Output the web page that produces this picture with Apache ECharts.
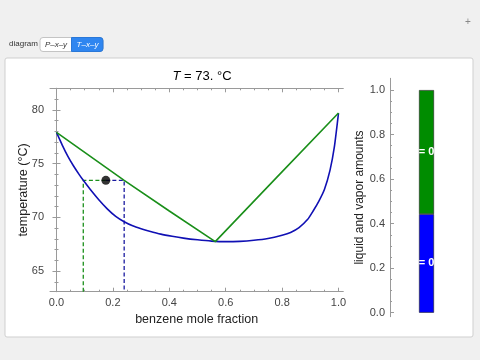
<!DOCTYPE html>
<html><head><meta charset="utf-8">
<script src="https://cdn.jsdelivr.net/npm/echarts@6/dist/echarts.min.js"></script>
<style>html,body{margin:0;padding:0;background:#f0f0f0;}#c{width:480px;height:360px;}</style>
</head><body><div id="c"></div>
<script>
// bubble (liquid) curve, blue
const bubbleX = [0, 0.02, 0.04, 0.06, 0.08, 0.095, 0.12, 0.15, 0.18, 0.21, 0.24, 0.27, 0.3, 0.33, 0.37, 0.41, 0.45, 0.5, 0.55, 0.6, 0.65, 0.7, 0.75, 0.8, 0.83, 0.86, 0.89, 0.91, 0.93, 0.95, 0.97, 0.985, 1.0];
const bubbleT = [77.9, 76.75, 75.7, 74.8, 74.0, 73.45, 72.6, 71.65, 70.8, 70.1, 69.6, 69.22, 68.95, 68.72, 68.45, 68.25, 68.08, 67.92, 67.8, 67.75, 67.78, 67.88, 68.05, 68.35, 68.6, 69.05, 69.8, 70.6, 71.5, 72.6, 74.4, 76.5, 79.7];
// dew (vapor) curve, green
const dewX = [0, 0.1, 0.24, 0.4, 0.563, 0.78, 1.0];
const dewT = [77.9, 76.05, 73.45, 70.6, 67.75, 73.7, 79.7];
// tie line state
const tieT = 73.45;
const liquidX = 0.095;
const vaporX = 0.24;
const overallX = 0.175;
// amounts bar
const barCategories = ['amounts'];
const liquidAmount = [0.443];
const vaporAmount = [0.557];
// ticks
const xMajor = [0, 0.2, 0.4, 0.6, 0.8, 1.0];
const xMinor = [0.05, 0.1, 0.15, 0.25, 0.3, 0.35, 0.45, 0.5, 0.55, 0.65, 0.7, 0.75, 0.85, 0.9, 0.95];
const yMajor = [65, 70, 75, 80];
const yMinor = [64, 66, 67, 68, 69, 71, 72, 73, 74, 76, 77, 78, 79, 81];
const bMajor = [0, 0.2, 0.4, 0.6, 0.8, 1.0];
const bMinor = [0.05, 0.1, 0.15, 0.25, 0.3, 0.35, 0.45, 0.5, 0.55, 0.65, 0.7, 0.75, 0.85, 0.9, 0.95];

const X_MIN = -0.023, X_MAX = 1.017, Y_MIN = 63.1, Y_MAX = 82.0;
const FONT = 'Liberation Sans, Arial, sans-serif';
const FR = '#9a9a9a';

function zip(a, b) { return a.map((v, i) => [v, b[i]]); }

function ax(o) {
  const base = {
    type: 'value', splitLine: { show: false }, nameMoveOverlap: false,
    axisLine: { show: o.line !== false, lineStyle: { color: FR, width: 1 } },
    axisTick: { show: true, inside: true, length: o.len, customValues: o.ticks, lineStyle: { color: FR } },
    axisLabel: o.labels ? { show: true, customValues: o.labels, formatter: o.fmt, color: '#444', fontSize: 11, fontFamily: FONT, margin: o.margin || 6 } : { show: false }
  };
  return Object.assign(base, o.extra);
}

const chart = echarts.init(document.getElementById('c'), null, { renderer: 'canvas' });
chart.setOption({
  animation: false,
  backgroundColor: '#f0f0f0',
  graphic: [
    { type: 'rect', shape: { x: 5, y: 58, width: 468, height: 279, r: 2 }, style: { fill: '#ffffff', stroke: '#cfcfcf', lineWidth: 1 }, z: -10 },
    { type: 'text', left: 9, top: 40, style: { text: 'diagram', font: '8px ' + FONT, fill: '#333' } },
    { type: 'rect', shape: { x: 40, y: 37.5, width: 63, height: 14, r: 3 }, style: { fill: '#ffffff', stroke: '#c4c4c4', lineWidth: 1 } },
    { type: 'rect', shape: { x: 71.5, y: 37.5, width: 31.5, height: 14, r: [0, 3, 3, 0] }, style: { fill: '#2f86f0', stroke: '#2a78d8', lineWidth: 1 } },
    { type: 'text', x: 56, y: 44.5, style: { text: 'P–x–y', font: 'italic 8px ' + FONT, fill: '#333', align: 'center', verticalAlign: 'middle' } },
    { type: 'text', x: 87.5, y: 44.5, style: { text: 'T–x–y', font: 'italic 8px ' + FONT, fill: '#fff', align: 'center', verticalAlign: 'middle' } },
    { type: 'text', x: 468, y: 22, style: { text: '+', font: '10px ' + FONT, fill: '#888', align: 'center', verticalAlign: 'middle' } }
  ],
  title: {
    text: '{i|T} = 73. °C', left: 197, top: 65, textAlign: 'center',
    textStyle: { fontSize: 13, fontWeight: 'normal', color: '#000', fontFamily: FONT, rich: { i: { fontStyle: 'italic', fontSize: 13, fontFamily: FONT, color: '#000' } } }
  },
  grid: [
    { left: 50, top: 88.3, right: 136.7, bottom: 68.3 },
    { left: 390, top: 78.3, width: 73, bottom: 43.3 }
  ],
  xAxis: [
    ax({ ticks: xMajor, len: 4, labels: xMajor, fmt: v => v.toFixed(1), extra: { gridIndex: 0, min: X_MIN, max: X_MAX, position: 'bottom', name: 'benzene mole fraction', nameLocation: 'middle', nameGap: 21, nameTextStyle: { fontSize: 12.5, color: '#222', fontFamily: FONT } } }),
    ax({ ticks: xMinor, len: 2, line: false, extra: { gridIndex: 0, min: X_MIN, max: X_MAX, position: 'bottom' } }),
    ax({ ticks: xMajor, len: 4, extra: { gridIndex: 0, min: X_MIN, max: X_MAX, position: 'top' } }),
    ax({ ticks: xMinor, len: 2, line: false, extra: { gridIndex: 0, min: X_MIN, max: X_MAX, position: 'top' } }),
    { type: 'category', gridIndex: 1, data: barCategories, show: false }
  ],
  yAxis: [
    ax({ ticks: yMajor, len: 4, labels: yMajor, fmt: v => String(v), extra: { gridIndex: 0, min: Y_MIN, max: Y_MAX, position: 'left', name: 'temperature (°C)', nameLocation: 'middle', nameGap: 20, nameTextStyle: { fontSize: 12.5, color: '#222', fontFamily: FONT } } }),
    ax({ ticks: yMinor, len: 2, line: false, extra: { gridIndex: 0, min: Y_MIN, max: Y_MAX, position: 'left' } }),
    ax({ ticks: yMajor, len: 4, extra: { gridIndex: 0, min: Y_MIN, max: Y_MAX, position: 'right' } }),
    ax({ ticks: yMinor, len: 2, line: false, extra: { gridIndex: 0, min: Y_MIN, max: Y_MAX, position: 'right' } }),
    ax({ ticks: bMajor, len: 4, labels: bMajor, fmt: v => v.toFixed(1), margin: 5, extra: { gridIndex: 1, min: -0.018, max: 1.053, position: 'left', name: 'liquid and vapor amounts', nameLocation: 'middle', nameGap: 24, nameTextStyle: { fontSize: 12, color: '#222', fontFamily: FONT } } }),
    ax({ ticks: bMinor, len: 2, line: false, extra: { gridIndex: 1, min: -0.018, max: 1.053, position: 'left' } })
  ],
  series: [
    { type: 'line', xAxisIndex: 0, yAxisIndex: 0, symbol: 'none', data: [[liquidX, Y_MIN], [liquidX, tieT], [overallX, tieT]], lineStyle: { color: '#1a8f1a', width: 1.3, type: [4, 2.5] }, z: 2 },
    { type: 'line', xAxisIndex: 0, yAxisIndex: 0, symbol: 'none', data: [[overallX, tieT], [vaporX, tieT], [vaporX, Y_MIN]], lineStyle: { color: '#1a1aa0', width: 1.3, type: [4, 2.5] }, z: 2 },
    { type: 'line', xAxisIndex: 0, yAxisIndex: 0, symbol: 'none', smooth: 0.2, data: zip(bubbleX, bubbleT), lineStyle: { color: '#1010b4', width: 1.6 }, z: 3 },
    { type: 'line', xAxisIndex: 0, yAxisIndex: 0, symbol: 'none', data: zip(dewX, dewT), lineStyle: { color: '#1a8f1a', width: 1.6 }, z: 3 },
    { type: 'scatter', xAxisIndex: 0, yAxisIndex: 0, symbolSize: 9, data: [[overallX, tieT]], itemStyle: { color: '#000' }, z: 5 },
    { type: 'bar', xAxisIndex: 4, yAxisIndex: 4, stack: 'a', barWidth: 15, data: liquidAmount, itemStyle: { color: '#0000ff', borderColor: '#222', borderWidth: 0.6 }, label: { show: true, position: 'inside', formatter: '= 0', color: '#fff', fontWeight: 'bold', fontSize: 11, fontFamily: FONT } },
    { type: 'bar', xAxisIndex: 4, yAxisIndex: 4, stack: 'a', barWidth: 15, data: vaporAmount, itemStyle: { color: '#008c00', borderColor: '#222', borderWidth: 0.6 }, label: { show: true, position: 'inside', formatter: '= 0', color: '#fff', fontWeight: 'bold', fontSize: 11, fontFamily: FONT } }
  ]
});
</script></body></html>
